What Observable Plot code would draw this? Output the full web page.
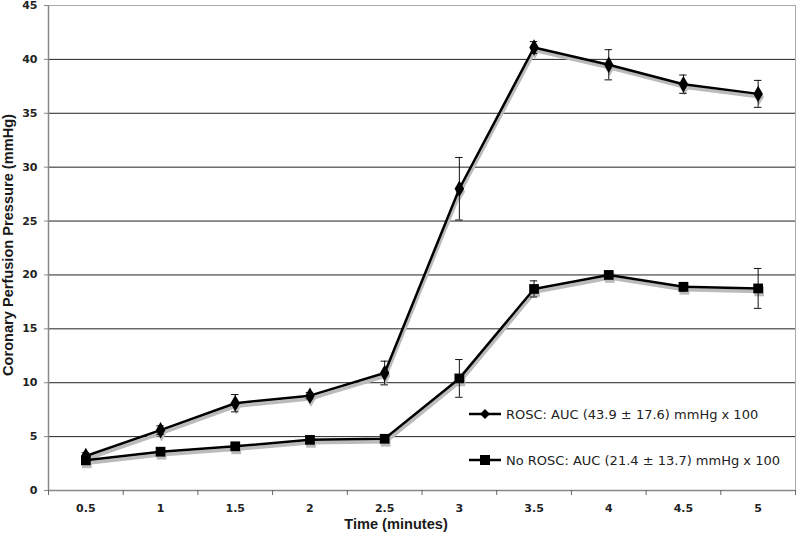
<!DOCTYPE html>
<html>
<head>
<meta charset="utf-8">
<script src="https://cdn.jsdelivr.net/npm/d3@7"></script>
<script src="https://cdn.jsdelivr.net/npm/@observablehq/plot@0.6"></script>
<style>
  body { margin: 0; background: #fff; }
  #wrap { position: relative; width: 800px; height: 536px; overflow: hidden; }
  #ylab { position: absolute; left: 8px; top: 245px; transform: translate(-50%, -50%) rotate(-90deg);
          font: bold 14.6px "Liberation Sans", Arial, sans-serif; color: #1a1a1a; white-space: nowrap; }
  #xlab { position: absolute; left: 396px; top: 524px; transform: translate(-50%, -50%);
          font: bold 14.6px "Liberation Sans", Arial, sans-serif; color: #1a1a1a; white-space: nowrap; }
  .leg { position: absolute; left: 469px; height: 20px; display: flex; align-items: center;
         font: 13px "DejaVu Sans", Verdana, sans-serif; color: #222; white-space: nowrap; }
  .leg svg { margin-right: 3px; }
</style>
</head>
<body>
<div id="wrap"></div>
<script>
// ---- data ----
const times = [0.5, 1, 1.5, 2, 2.5, 3, 3.5, 4, 4.5, 5];
const roscMean = [3.2, 5.6, 8.1, 8.8, 10.9, 28.0, 41.1, 39.5, 37.7, 36.8];
const roscErr  = [0.3, 0.4, 0.8, 0.3, 1.1, 2.9, 0.55, 1.4, 0.85, 1.25];
const noRoscMean = [2.8, 3.6, 4.1, 4.7, 4.8, 10.4, 18.7, 20.0, 18.9, 18.75];
const noRoscErr  = [0.2, 0.2, 0.2, 0.2, 0.2, 1.75, 0.75, 0.2, 0.4, 1.85];
const yTicks = [0, 5, 10, 15, 20, 25, 30, 35, 40, 45];
const seriesNames = ["ROSC: AUC (43.9 ± 17.6) mmHg x 100", "No ROSC: AUC (21.4 ± 13.7) mmHg x 100"];

const rosc = times.map((t, i) => ({t, v: roscMean[i], lo: roscMean[i] - roscErr[i], hi: roscMean[i] + roscErr[i]}));
const noRosc = times.map((t, i) => ({t, v: noRoscMean[i], lo: noRoscMean[i] - noRoscErr[i], hi: noRoscMean[i] + noRoscErr[i]}));
const step = times[1] - times[0];
const bounds = [...times.map(t => t - step / 2), times[times.length - 1] + step / 2];
const capHalf = step * 0.05;

function errMarks(data) {
  return [
    Plot.ruleX(data, {x: "t", y1: "lo", y2: "hi", stroke: "#111", strokeWidth: 1}),
    Plot.ruleY(data, {y: "hi", x1: d => d.t - capHalf, x2: d => d.t + capHalf, stroke: "#111", strokeWidth: 1}),
    Plot.ruleY(data, {y: "lo", x1: d => d.t - capHalf, x2: d => d.t + capHalf, stroke: "#111", strokeWidth: 1})
  ];
}

const chart = Plot.plot({
  width: 800, height: 536,
  marginLeft: 48, marginRight: 5, marginTop: 5, marginBottom: 46,
  style: {fontFamily: "'DejaVu Sans', Verdana, sans-serif", fontSize: "11px", fontWeight: "bold", color: "#222", background: "#fff"},
  x: {domain: [bounds[0], bounds[bounds.length - 1]]},
  y: {domain: [yTicks[0], yTicks[yTicks.length - 1]]},
  marks: [
    Plot.ruleY(yTicks.slice(1, -1), {stroke: "#222", strokeWidth: 1}),
    Plot.ruleY(yTicks.slice(-1), {stroke: "#aaa", strokeWidth: 1}),
    Plot.ruleX(bounds.slice(-1), {stroke: "#aaa", strokeWidth: 1}),
    Plot.ruleX(bounds.slice(0, 1), {stroke: "#888", strokeWidth: 1.5}),
    Plot.ruleY(yTicks.slice(0, 1), {stroke: "#888", strokeWidth: 1.5}),
    Plot.axisY({ticks: yTicks, tickSize: 4, tickPadding: 7, label: null, tickFormat: d => d, stroke: "#888"}),
    Plot.axisX({ticks: times, tickSize: 0, tickPadding: 14, label: null, tickFormat: d => d}),
    Plot.axisX({ticks: bounds, tickSize: 5, tickPadding: 0, label: null, tickFormat: () => "", stroke: "#666"}),
    // shadows
    Plot.line(rosc, {x: "t", y: "v", stroke: "#bbb", strokeWidth: 3.5, dx: 1, dy: 3}),
    Plot.line(noRosc, {x: "t", y: "v", stroke: "#bbb", strokeWidth: 3.5, dx: 1, dy: 3}),
    Plot.dot(noRosc, {x: "t", y: "v", symbol: "square", r: 5.5, fill: "#bbb", dx: 1, dy: 3}),
    Plot.dot(rosc, {x: "t", y: "v", symbol: "diamond", r: 5, fill: "#bbb", dx: 1, dy: 3}),
    ...errMarks(rosc),
    ...errMarks(noRosc),
    Plot.line(rosc, {x: "t", y: "v", stroke: "#000", strokeWidth: 2.5}),
    Plot.line(noRosc, {x: "t", y: "v", stroke: "#000", strokeWidth: 2.5}),
    Plot.dot(rosc, {x: "t", y: "v", symbol: "diamond", r: 5, fill: "#000"}),
    Plot.dot(noRosc, {x: "t", y: "v", symbol: "square", r: 5.5, fill: "#000"})
  ]
});

const wrap = document.getElementById("wrap");
wrap.appendChild(chart);

const ylab = document.createElement("div");
ylab.id = "ylab"; ylab.textContent = "Coronary Perfusion Pressure (mmHg)";
wrap.appendChild(ylab);
const xlab = document.createElement("div");
xlab.id = "xlab"; xlab.textContent = "Time (minutes)";
wrap.appendChild(xlab);

const legTops = [404, 450];
const glyphs = [
  '<path d="M0,10H32" stroke="#000" stroke-width="2.5"/><path d="M16,5L21,10L16,15L11,10Z" fill="#000"/>',
  '<path d="M0,10H32" stroke="#000" stroke-width="2.5"/><rect x="11" y="5" width="10" height="10" fill="#000"/>'
];
seriesNames.forEach((name, i) => {
  const d = document.createElement("div");
  d.className = "leg";
  d.style.top = legTops[i] + "px";
  d.innerHTML = '<svg width="34" height="20">' + glyphs[i] + '</svg><span></span>';
  d.querySelector("span").textContent = name;
  wrap.appendChild(d);
});
</script>
</body>
</html>
